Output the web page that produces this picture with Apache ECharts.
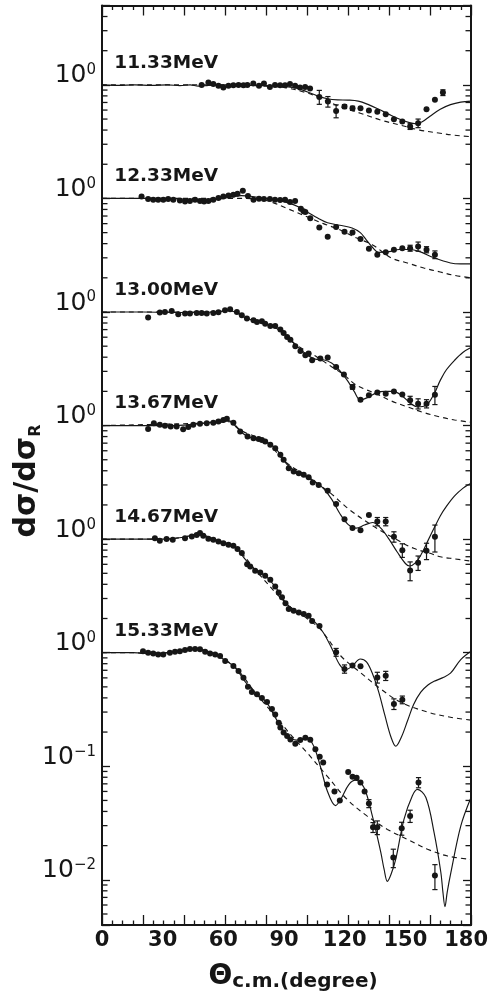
<!DOCTYPE html>
<html>
<head>
<meta charset="utf-8">
<script src="https://cdn.jsdelivr.net/npm/echarts@6/dist/echarts.min.js"></script>
<style>
  html, body { margin: 0; padding: 0; background: #ffffff; }
  #chart { width: 491px; height: 996px; }
</style>
</head>
<body>
<div id="chart"></div>
<script>
// Elastic scattering angular distributions, dσ/dσR, at six beam energies.
// Each energy is shifted by a decade so the curves stack on one log axis.

const energyLabels = ['11.33MeV', '12.33MeV', '13.00MeV', '13.67MeV', '14.67MeV', '15.33MeV'];
const decadeShift  = [5, 4, 3, 2, 1, 0];

const xTickLabels = [0, 30, 60, 90, 120, 150, 180];

// measured points: [angle (deg), ratio]
const e1133Pts = [[48.6,1.0],[51.9,1.05],[54.3,1.02],[56.8,0.98],[59.2,0.95],[61.7,0.98],[64.1,0.99],[66.6,1.0],[69.0,0.99],
  [70.9,1.0],[73.8,1.03],[76.6,0.98],[79.0,1.03],[81.9,0.96],[84.4,1.0],[86.9,0.99],[89.3,0.99],[91.7,1.02],[94.2,0.98],
  [96.6,0.95],[99.1,0.96],[101.5,0.93],[106.0,0.784],[110.2,0.713],[114.2,0.59],[118.3,0.644],[122.2,0.623],[126.1,0.623],
  [130.2,0.594],[134.3,0.58],[138.4,0.552],[142.4,0.499],[146.5,0.475],[150.3,0.43],[154.2,0.46],[158.3,0.61],[162.4,0.738],[166.3,0.855]];
const e1233Pts = [[19.3,1.04],[22.5,0.99],[25.0,0.975],[27.4,0.975],[29.9,0.975],[32.3,0.99],[34.8,0.975],[38.0,0.96],[40.5,0.94],
  [42.9,0.95],[45.4,0.975],[47.8,0.95],[49.8,0.94],[51.9,0.95],[54.3,0.975],[56.8,1.01],[59.2,1.04],[61.7,1.06],[64.1,1.08],
  [66.1,1.1],[68.7,1.17],[71.2,1.05],[73.9,0.975],[76.6,0.995],[79.0,0.99],[81.9,0.99],[84.4,0.975],[86.9,0.97],[89.3,0.975],
  [91.7,0.93],[94.2,0.95],[97.0,0.81],[98.3,0.77],[99.2,0.76],[101.6,0.67],[106.0,0.555],[110.1,0.46],[114.2,0.56],[118.3,0.51],
  [122.2,0.5],[126.1,0.44],[130.2,0.36],[134.3,0.32],[138.4,0.335],[142.4,0.354],[146.5,0.365],[150.3,0.365],[154.2,0.378],
  [158.3,0.354],[162.4,0.32]];
const e1300Pts = [[22.5,0.893],[28.2,0.988],[30.7,1.0],[34.0,1.02],[37.2,0.955],[40.5,0.97],[42.9,0.97],[46.2,0.98],[48.6,0.98],
  [51.1,0.97],[54.3,0.98],[56.8,0.995],[60.0,1.035],[62.5,1.06],[65.8,1.0],[68.2,0.935],[70.7,0.875],[73.9,0.845],[75.6,0.816],
  [78.0,0.83],[79.6,0.79],[82.1,0.753],[84.5,0.753],[87.0,0.70],[88.6,0.654],[90.3,0.603],[91.9,0.57],[94.3,0.50],[96.8,0.454],
  [99.2,0.416],[100.8,0.43],[102.5,0.376],[106.5,0.39],[110.1,0.397],[114.2,0.328],[118.0,0.281],[122.2,0.219],[126.1,0.169],
  [130.2,0.185],[134.3,0.195],[138.4,0.191],[142.4,0.20],[146.5,0.188],[150.3,0.167],[154.2,0.156],[158.3,0.156],[162.4,0.187]];
const e1367Pts = [[22.5,0.935],[25.3,1.05],[28.2,1.015],[30.7,0.995],[33.5,0.98],[36.4,0.98],[39.6,0.93],[42.1,0.97],[44.5,1.015],
  [47.8,1.035],[51.1,1.05],[54.3,1.06],[56.8,1.085],[59.2,1.12],[60.9,1.15],[64.1,1.06],[67.4,0.886],[71.0,0.80],[73.9,0.775],
  [76.4,0.76],[78.0,0.745],[79.6,0.723],[82.1,0.676],[84.5,0.632],[87.0,0.552],[88.6,0.499],[91.1,0.42],[93.5,0.394],[96.0,0.38],
  [98.4,0.368],[100.8,0.35],[102.8,0.315],[105.7,0.30],[110.1,0.266],[114.2,0.204],[118.3,0.15],[122.2,0.125],[126.1,0.12],
  [130.2,0.163],[134.3,0.143],[138.4,0.143],[142.4,0.105],[146.5,0.08],[150.3,0.053],[154.2,0.062],[158.3,0.079],[162.4,0.105]];
const e1467Pts = [[25.8,1.02],[28.2,0.967],[31.5,1.0],[34.5,0.987],[40.5,1.02],[43.8,1.055],[46.2,1.085],[47.8,1.13],[49.4,1.07],
  [51.9,1.01],[54.3,0.987],[56.8,0.954],[59.2,0.922],[61.7,0.891],[64.1,0.873],[66.1,0.817],[68.2,0.753],[70.8,0.60],[72.3,0.575],
  [74.7,0.526],[77.2,0.509],[79.6,0.475],[82.1,0.438],[84.5,0.383],[86.2,0.339],[87.8,0.307],[89.5,0.273],[91.1,0.242],
  [93.5,0.234],[96.0,0.226],[98.4,0.219],[100.8,0.211],[102.5,0.19],[106.1,0.172],[114.2,0.101],[118.3,0.072],[122.2,0.077],
  [126.1,0.076],[134.3,0.0606],[138.4,0.0627],[142.4,0.0354],[146.5,0.0385]];
const e1533Pts = [[20.0,1.03],[22.5,1.0],[25.0,0.986],[27.4,0.966],[29.9,0.966],[33.1,1.0],[35.6,1.02],[38.0,1.03],[40.5,1.055],
  [42.9,1.08],[45.4,1.08],[47.8,1.07],[50.3,1.02],[52.7,0.986],[55.2,0.966],[57.6,0.934],[60.1,0.844],[64.1,0.763],[66.6,0.689],
  [69.0,0.603],[71.2,0.50],[73.1,0.45],[75.6,0.43],[78.0,0.40],[80.5,0.368],[82.9,0.32],[84.5,0.286],[86.2,0.242],[87.0,0.219],
  [88.6,0.198],[90.3,0.185],[91.9,0.172],[94.3,0.158],[96.7,0.17],[99.2,0.178],[101.6,0.171],[104.1,0.141],[106.2,0.121],
  [107.9,0.108],[109.8,0.069],[113.4,0.06],[116.0,0.05],[120.1,0.089],[122.2,0.081],[124.2,0.079],[126.1,0.072],[128.1,0.06],
  [130.2,0.047],[132.2,0.029],[134.3,0.029],[142.1,0.0157],[146.2,0.0284],[150.3,0.0365],[154.4,0.072],[162.4,0.0109]];

// error bars: [angle, ratio, ±uncertainty]
const e1133Err = [[106.0,0.784,0.11],[110.2,0.713,0.076],[114.2,0.59,0.077],[118.3,0.644,0.025],[122.2,0.623,0.025],
  [150.3,0.43,0.025],[154.2,0.46,0.04],[166.3,0.855,0.05]];
const e1233Err = [[150.3,0.365,0.022],[154.2,0.378,0.035],[158.3,0.354,0.022],[162.4,0.32,0.025]];
const e1300Err = [[122.2,0.219,0.01],[150.3,0.167,0.014],[154.2,0.156,0.016],[158.3,0.156,0.013],[162.4,0.187,0.034]];
const e1367Err = [[134.3,0.143,0.012],[138.4,0.143,0.012],[142.4,0.105,0.011],[146.5,0.08,0.011],[150.3,0.053,0.01],
  [154.2,0.062,0.009],[158.3,0.079,0.013],[162.4,0.105,0.028]];
const e1467Err = [[114.2,0.101,0.008],[118.3,0.072,0.006],[134.3,0.0606,0.0066],[138.4,0.0627,0.0058],[142.4,0.0354,0.0038],
  [146.5,0.0385,0.003]];
const e1533Err = [[130.2,0.047,0.0038],[132.2,0.029,0.0029],[134.3,0.029,0.004],[142.1,0.0157,0.0029],[146.2,0.0284,0.0037],
  [150.3,0.0365,0.0045],[154.4,0.072,0.0074],[162.4,0.0109,0.0027]];

// model calculations: solid = full calculation, dashed = reference calculation
const e1133Solid = [[0,1.0],[8,0.99],[16,1.0],[24,0.99],[32,1.0],[38,0.985],[43,1.0],[47,0.975],[52,0.99],[60,1.0],[70,0.995],
  [80,0.985],[90,0.965],[95,0.935],[100,0.87],[105,0.8],[110,0.755],[115,0.738],[120,0.735],[125,0.72],[130,0.67],[135,0.61],
  [140,0.55],[145,0.5],[150,0.465],[153,0.455],[156,0.47],[160,0.53],[165,0.61],[170,0.67],[175,0.705],[180,0.72]];
const e1133Dashed = [[0,1.0],[60,1.0],[70,0.99],[80,0.975],[90,0.94],[100,0.85],[106,0.77],[116,0.645],[126,0.563],[136,0.49],
  [146,0.44],[155,0.4],[165,0.375],[172,0.36],[180,0.35]];
const e1233Solid = [[0,1.0],[30,1.0],[45,0.98],[55,0.98],[62,1.02],[68,1.06],[75,1.03],[85,0.97],[92,0.9],[96,0.84],[100,0.76],
  [106,0.66],[110,0.61],[116,0.58],[122,0.55],[126,0.5],[129,0.43],[132,0.37],[135,0.335],[140,0.34],[145,0.355],[150,0.355],
  [155,0.34],[162,0.3],[170,0.27],[175,0.265],[180,0.265]];
const e1233Dashed = [[0,1.0],[70,1.0],[80,0.96],[84,0.91],[90,0.82],[100,0.69],[108,0.6],[116,0.53],[124,0.45],[132,0.39],
  [141,0.3],[149,0.27],[157,0.244],[165,0.225],[172,0.21],[180,0.2]];
const e1300Solid = [[0,1.0],[20,1.0],[40,0.99],[55,1.0],[62,1.03],[66,0.98],[70,0.89],[75,0.83],[80,0.78],[85,0.72],[90,0.62],
  [95,0.5],[100,0.42],[104,0.385],[108,0.38],[112,0.355],[116,0.305],[120,0.245],[123,0.2],[126,0.168],[130,0.178],[134,0.195],
  [138,0.2],[142,0.2],[146,0.185],[150,0.16],[154,0.146],[158,0.15],[162,0.19],[165,0.25],[168,0.31],[172,0.376],[176,0.44],[180,0.486]];
const e1300Dashed = [[0,1.0],[55,1.0],[62,1.03],[66,0.98],[75,0.83],[85,0.72],[95,0.51],[105,0.4],[112,0.33],[118,0.28],
  [123,0.234],[128,0.21],[134,0.19],[141,0.165],[149,0.146],[157,0.13],[165,0.119],[172,0.112],[180,0.107]];
const e1367Solid = [[0,1.0],[20,1.0],[35,1.0],[50,1.05],[58,1.1],[62,1.1],[66,0.95],[70,0.82],[75,0.76],[80,0.72],[85,0.62],
  [90,0.46],[95,0.39],[100,0.35],[104,0.32],[108,0.28],[112,0.225],[116,0.168],[120,0.135],[124,0.125],[128,0.133],[132,0.14],
  [136,0.125],[140,0.1],[144,0.077],[148,0.061],[150,0.058],[153,0.062],[156,0.075],[159,0.097],[162,0.125],[165,0.16],
  [168,0.194],[172,0.24],[176,0.28],[180,0.31]];
const e1367Dashed = [[0,1.0],[50,1.05],[62,1.08],[68,0.9],[80,0.72],[90,0.47],[100,0.36],[106,0.3],[111.5,0.254],[121,0.18],
  [132.7,0.129],[142.4,0.102],[152,0.083],[160,0.075],[165,0.07],[172,0.067],[180,0.064]];
const e1467Solid = [[0,1.0],[20,1.0],[30,1.0],[40,1.04],[46,1.1],[50,1.08],[55,0.99],[60,0.92],[65,0.85],[70,0.66],[75,0.53],
  [80,0.47],[85,0.37],[90,0.27],[95,0.23],[100,0.21],[104,0.185],[108,0.15],[112,0.11],[116,0.078],[119,0.071],[122,0.076],
  [126,0.088],[129,0.083],[132,0.065],[135,0.045],[138,0.028],[141,0.018],[143.3,0.015],[146,0.018],[149,0.025],[152,0.035],
  [155.5,0.045],[159,0.052],[162,0.056],[166,0.06],[170,0.066],[175,0.087],[180,0.103]];
const e1467Dashed = [[0,1.0],[30,1.0],[40,1.04],[46,1.1],[55,0.99],[65,0.85],[75,0.53],[90,0.27],[100,0.2],[106.5,0.161],
  [116.4,0.094],[126,0.067],[135.9,0.048],[145.7,0.0366],[158.8,0.03],[170,0.027],[180,0.0255]];
const e1533Solid = [[0,1.0],[15,1.0],[25,0.98],[32,1.0],[40,1.05],[45,1.08],[50,1.05],[55,0.97],[60,0.86],[65,0.74],[70,0.55],
  [75,0.44],[80,0.37],[85,0.26],[90,0.19],[95,0.17],[100,0.178],[103.3,0.15],[106.5,0.1],[110,0.06],[113.9,0.045],[116.4,0.051],
  [120.4,0.069],[123.7,0.0755],[127.8,0.065],[131.9,0.0364],[136,0.0174],[137.6,0.0124],[139.2,0.0097],[141,0.0112],
  [143.3,0.0152],[147.3,0.034],[151.4,0.055],[153.9,0.0625],[158,0.053],[162,0.026],[165.3,0.0116],[166.3,0.0078],
  [167.3,0.0058],[168.4,0.0078],[170.2,0.0116],[175,0.0297],[180,0.053]];
const e1533Dashed = [[0,1.0],[15,1.0],[25,0.98],[32,1.0],[45,1.07],[55,0.97],[65,0.74],[75,0.44],[85,0.27],[92,0.19],
  [100,0.132],[109.8,0.082],[119.6,0.051],[129.4,0.0364],[139.2,0.0278],[149,0.0227],[158.8,0.0186],[168.6,0.0162],[180,0.0151]];

const pointSets  = [e1133Pts, e1233Pts, e1300Pts, e1367Pts, e1467Pts, e1533Pts];
const errorSets  = [e1133Err, e1233Err, e1300Err, e1367Err, e1467Err, e1533Err];
const solidSets  = [e1133Solid, e1233Solid, e1300Solid, e1367Solid, e1467Solid, e1533Solid];
const dashedSets = [e1133Dashed, e1233Dashed, e1300Dashed, e1367Dashed, e1467Dashed, e1533Dashed];

const INK = '#161616';
const FONT = 'DejaVu Sans';
const Y_MIN = 0.004, Y_MAX = 5e5;

function yTickLabel(v) {
  const lg = Math.log10(v);
  const e = Math.round(lg);
  if (Math.abs(lg - e) > 1e-6) return '';
  if (e < 0) return '{b|10}{s|\u2212' + (-e) + '}';
  return '{b|10}{s|0}';
}

// log minor ticks (2..9 in each decade) for both vertical frame edges
const minorTickValues = [];
for (let k = -3; k <= 5; k++) {
  for (let m = 2; m <= 9; m++) {
    const v = m * Math.pow(10, k);
    if (v > Y_MIN && v < Y_MAX) minorTickValues.push([0, v]);
  }
}

const series = [];
series.push({
  type: 'custom', xAxisIndex: 0, yAxisIndex: 0, silent: true, z: 1,
  data: minorTickValues,
  renderItem: function (params, api) {
    const p = api.coord([0, api.value(1)]);
    const x0 = params.coordSys.x, x1 = params.coordSys.x + params.coordSys.width;
    const st = { stroke: INK, lineWidth: 1.3 };
    return { type: 'group', children: [
      { type: 'line', shape: { x1: x0, y1: p[1], x2: x0 + 5.5, y2: p[1] }, style: st },
      { type: 'line', shape: { x1: x1, y1: p[1], x2: x1 - 5.5, y2: p[1] }, style: st }
    ]};
  }
});

energyLabels.forEach(function (name, i) {
  const f = Math.pow(10, decadeShift[i]);
  series.push({
    type: 'line', name: name + ' calc', xAxisIndex: 0, yAxisIndex: 0,
    data: solidSets[i].map(d => [d[0], d[1] * f]),
    smooth: 0.35, showSymbol: false, symbol: 'none',
    lineStyle: { color: INK, width: 1.15 }, z: 3
  });
  series.push({
    type: 'line', name: name + ' ref', xAxisIndex: 0, yAxisIndex: 0,
    data: dashedSets[i].map(d => [d[0], d[1] * f]),
    smooth: 0.35, showSymbol: false, symbol: 'none',
    lineStyle: { color: INK, width: 1.15, type: [5, 4] }, z: 3
  });
  series.push({
    type: 'custom', name: name + ' err', xAxisIndex: 0, yAxisIndex: 0, z: 4,
    data: errorSets[i].map(d => [d[0], d[1] * f, (d[1] - d[2]) * f, (d[1] + d[2]) * f]),
    renderItem: function (params, api) {
      const x = api.value(0);
      const hi = api.coord([x, api.value(3)]);
      const lo = api.coord([x, api.value(2)]);
      const st = { stroke: INK, lineWidth: 1.2 };
      const w = 2.6;
      return { type: 'group', children: [
        { type: 'line', shape: { x1: hi[0], y1: hi[1], x2: lo[0], y2: lo[1] }, style: st },
        { type: 'line', shape: { x1: hi[0] - w, y1: hi[1], x2: hi[0] + w, y2: hi[1] }, style: st },
        { type: 'line', shape: { x1: lo[0] - w, y1: lo[1], x2: lo[0] + w, y2: lo[1] }, style: st }
      ]};
    }
  });
  series.push({
    type: 'scatter', name: name, xAxisIndex: 0, yAxisIndex: 0, z: 5,
    data: pointSets[i].map(d => [d[0], d[1] * f]),
    symbol: 'circle', symbolSize: 6, itemStyle: { color: INK, opacity: 1 }
  });
  series.push({
    type: 'scatter', name: name + ' label', xAxisIndex: 0, yAxisIndex: 0, z: 6, silent: true,
    data: [[6, 1.56 * f]], symbolSize: 0, itemStyle: { opacity: 1 },
    label: { show: true, position: 'right', distance: 0, formatter: name,
      fontFamily: FONT, fontSize: 18.5, fontWeight: 'bold', color: INK, opacity: 1 }
  });
});

const tickAxisX = {
  type: 'value', min: 0, max: 180, interval: 20,
  axisLine: { show: true, onZero: false, lineStyle: { color: INK, width: 2 } },
  axisTick: { show: true, inside: true, length: 10, lineStyle: { color: INK, width: 1.3 } },
  minorTick: { show: true, splitNumber: 4, length: 4.5, lineStyle: { color: INK, width: 1.3 } },
  axisLabel: { show: false }, splitLine: { show: false }, minorSplitLine: { show: false }
};
const logAxisY = {
  type: 'log', logBase: 10, min: Y_MIN, max: Y_MAX,
  axisLine: { show: true, onZero: false, lineStyle: { color: INK, width: 2 } },
  axisTick: { show: true, inside: true, length: 8, lineStyle: { color: INK, width: 1.3 } },
  splitLine: { show: false }
};

const option = {
  animation: false,
  backgroundColor: '#ffffff',
  grid: [
    { left: 102, right: 20, top: 5.5, bottom: 71 },
    { left: 102, right: 20, top: 5.5, bottom: 71 }
  ],
  xAxis: [
    Object.assign({ gridIndex: 0, position: 'bottom' }, tickAxisX),
    Object.assign({ gridIndex: 0, position: 'top' }, tickAxisX),
    { gridIndex: 1, type: 'value', position: 'bottom', min: 0, max: 180, interval: 30,
      axisLine: { show: false }, axisTick: { show: false }, splitLine: { show: false },
      axisLabel: { show: true, margin: 5, fontFamily: FONT, fontSize: 21, fontWeight: 'bold', color: INK,
        formatter: function (v) { return xTickLabels.indexOf(v) >= 0 ? String(v) : ''; } } }
  ],
  yAxis: [
    Object.assign({ gridIndex: 0, position: 'left',
      axisLabel: { show: true, margin: 6, formatter: yTickLabel, verticalAlign: 'middle',
        padding: [0, 0, 18, 0],
        rich: {
          b: { fontFamily: FONT, fontSize: 25, color: INK, lineHeight: 26 },
          s: { fontFamily: FONT, fontSize: 15, color: INK, lineHeight: 15, verticalAlign: 'top' }
        } } }, logAxisY),
    Object.assign({ gridIndex: 0, position: 'right', axisLabel: { show: false } }, logAxisY),
    { gridIndex: 1, type: 'value', show: false }
  ],
  graphic: [
    { type: 'text', x: 27, y: 481, rotation: Math.PI / 2, silent: true,
      style: { text: '{a|d\u03C3/d\u03C3}{r|R}', align: 'center', verticalAlign: 'middle',
        rich: {
          a: { fontFamily: FONT, fontSize: 30, fontWeight: 'bold', fill: INK, lineHeight: 34 },
          r: { fontFamily: FONT, fontSize: 16, fontWeight: 'bold', fill: INK, lineHeight: 16, verticalAlign: 'bottom' }
        } } },
    { type: 'text', x: 293, y: 977, silent: true,
      style: { text: '{t|\u0398}{c|c.m.(degree)}', align: 'center', verticalAlign: 'middle',
        rich: {
          t: { fontFamily: FONT, fontSize: 28, fontWeight: 'bold', fill: INK, lineHeight: 30 },
          c: { fontFamily: FONT, fontSize: 20, fontWeight: 'bold', fill: INK, lineHeight: 22, verticalAlign: 'bottom' }
        } } }
  ],
  series: series
};

const chart = echarts.init(document.getElementById('chart'), null, { renderer: 'canvas' });
chart.setOption(option);
</script>
</body>
</html>
